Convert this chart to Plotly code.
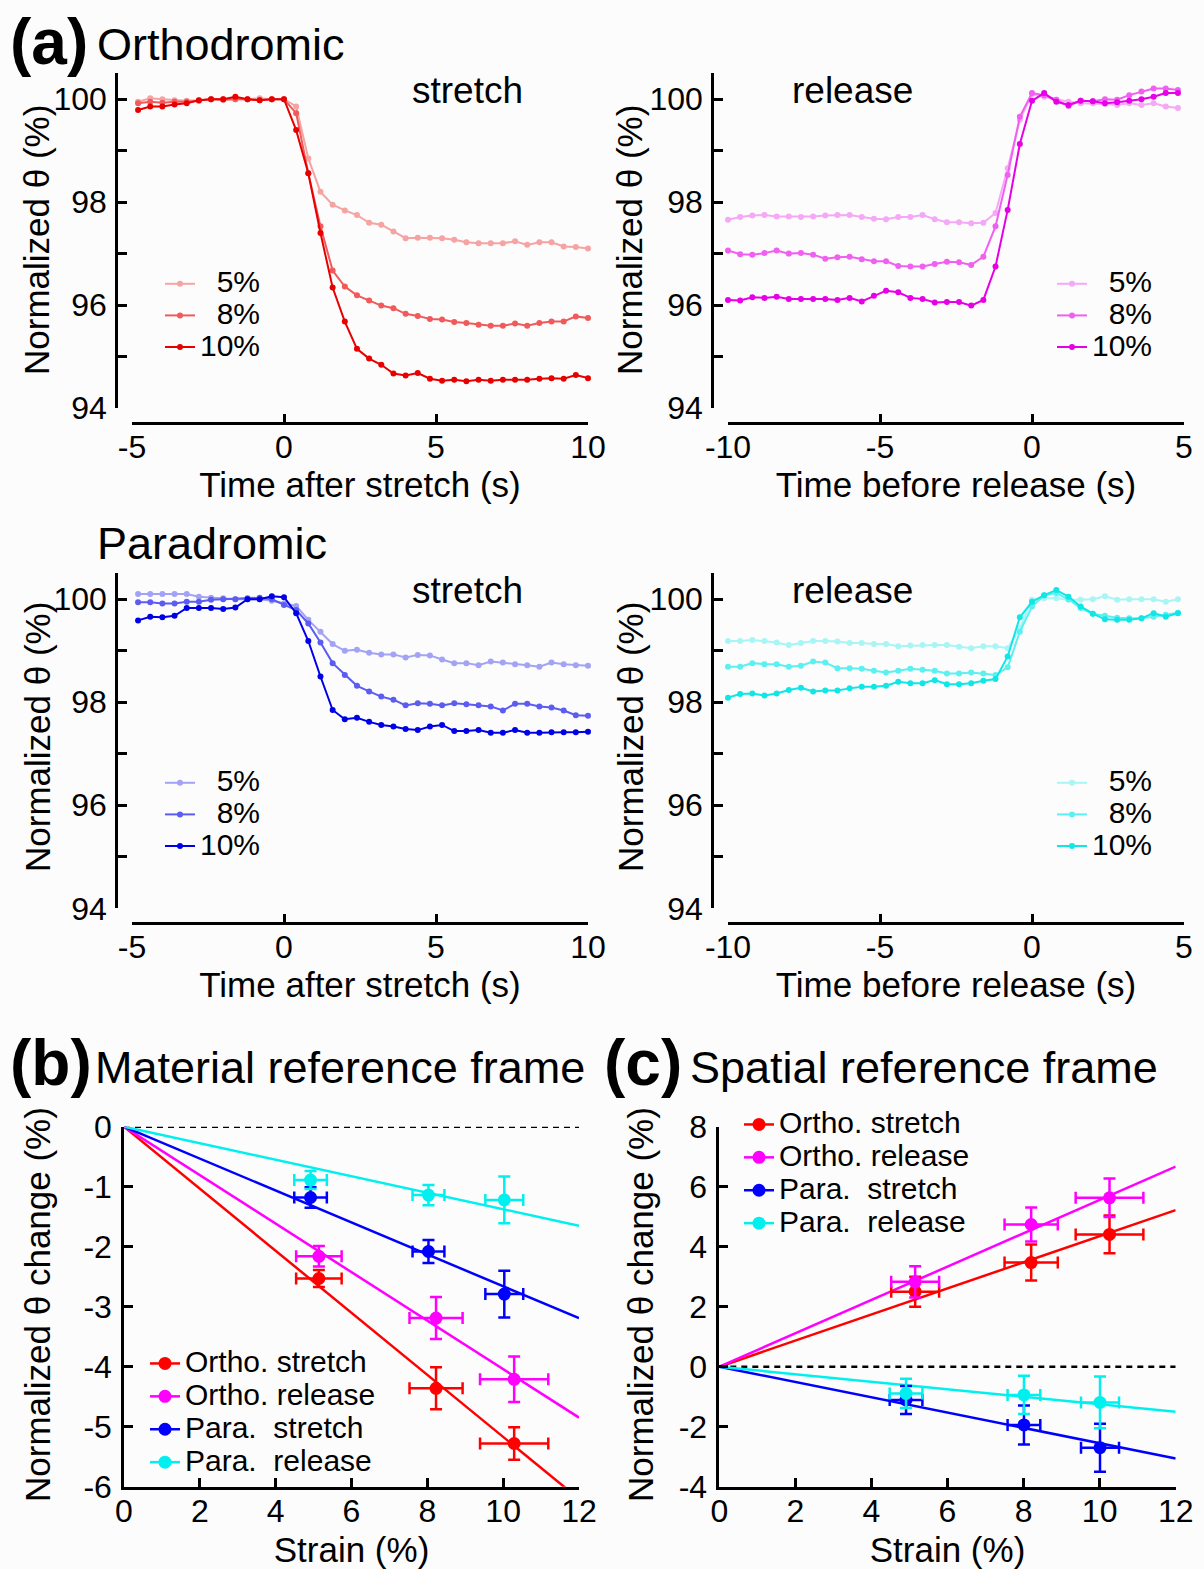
import plotly.graph_objects as go

# ---------------- data ----------------
t_stretch = [-4.8, -4.4, -4.0, -3.6, -3.2, -2.8, -2.4, -2.0, -1.6, -1.2, -0.8, -0.4, 0.0,
             0.4, 0.8, 1.2, 1.6, 2.0, 2.4, 2.8, 3.2, 3.6, 4.0, 4.4, 4.8, 5.2, 5.6, 6.0,
             6.4, 6.8, 7.2, 7.6, 8.0, 8.4, 8.8, 9.2, 9.6, 10.0]
t_release = [-10.0, -9.6, -9.2, -8.8, -8.4, -8.0, -7.6, -7.2, -6.8, -6.4, -6.0, -5.6, -5.2,
             -4.8, -4.4, -4.0, -3.6, -3.2, -2.8, -2.4, -2.0, -1.6, -1.2, -0.8, -0.4, 0.0,
             0.4, 0.8, 1.2, 1.6, 2.0, 2.4, 2.8, 3.2, 3.6, 4.0, 4.4, 4.8]

ortho_stretch_5 = [99.95, 100.02, 100.0, 99.98, 99.97, 99.98, 100.0, 99.98, 100.0, 100.0, 100.02, 100.0, 100.0,
                   99.86, 98.85, 98.2, 97.95, 97.84, 97.75, 97.6, 97.56, 97.43, 97.3, 97.31, 97.31, 97.3,
                   97.27, 97.22, 97.2, 97.2, 97.2, 97.24, 97.17, 97.22, 97.22, 97.14, 97.13, 97.1]
ortho_stretch_8 = [99.92, 99.95, 99.93, 99.95, 99.95, 99.97, 100.0, 100.0, 100.0, 100.0, 99.98, 100.0, 100.0,
                   99.73, 98.56, 97.53, 96.67, 96.36, 96.19, 96.09, 95.99, 95.94, 95.83, 95.79, 95.73, 95.72,
                   95.67, 95.65, 95.62, 95.6, 95.6, 95.64, 95.6, 95.65, 95.68, 95.68, 95.78, 95.75]
ortho_stretch_10 = [99.79, 99.86, 99.86, 99.9, 99.92, 99.98, 100.0, 100.0, 100.05, 100.0, 99.98, 100.0, 100.0,
                    99.4, 98.56, 97.4, 96.34, 95.68, 95.15, 94.96, 94.84, 94.67, 94.63, 94.68, 94.57, 94.53,
                    94.55, 94.52, 94.55, 94.53, 94.55, 94.55, 94.55, 94.57, 94.58, 94.57, 94.64, 94.58]

ortho_release_5 = [97.66, 97.71, 97.74, 97.75, 97.72, 97.72, 97.71, 97.72, 97.74, 97.75, 97.75, 97.71, 97.68,
                   97.67, 97.71, 97.71, 97.75, 97.67, 97.61, 97.61, 97.59, 97.6, 97.79, 98.66, 99.6, 100.1,
                   100.05, 99.99, 99.95, 99.92, 99.92, 99.91, 99.89, 99.92, 99.89, 99.92, 99.86, 99.83]
ortho_release_8 = [97.06, 96.99, 96.98, 97.01, 97.06, 97.0, 97.01, 96.98, 96.9, 96.93, 96.94, 96.89, 96.85,
                   96.85, 96.76, 96.75, 96.75, 96.8, 96.84, 96.83, 96.78, 96.94, 97.53, 98.53, 99.66, 100.12,
                   100.08, 99.99, 99.87, 99.97, 99.96, 100.0, 99.99, 100.08, 100.15, 100.21, 100.21, 100.18]
ortho_release_10 = [96.1, 96.09, 96.15, 96.14, 96.16, 96.12, 96.12, 96.12, 96.12, 96.1, 96.14, 96.07, 96.18,
                    96.28, 96.25, 96.14, 96.12, 96.05, 96.06, 96.06, 95.99, 96.1, 96.75, 97.85, 99.13, 99.97,
                    100.12, 99.95, 99.89, 99.97, 99.96, 99.92, 99.94, 99.97, 100.0, 100.05, 100.12, 100.12]

para_stretch_5 = [100.1, 100.1, 100.1, 100.1, 100.1, 100.05, 100.03, 100.02, 100.0, 100.0, 100.0, 99.97, 99.92,
                  99.87, 99.6, 99.37, 99.13, 99.0, 99.02, 98.96, 98.93, 98.93, 98.87, 98.92, 98.91, 98.83,
                  98.76, 98.76, 98.72, 98.79, 98.77, 98.74, 98.72, 98.69, 98.77, 98.74, 98.72, 98.71]
para_stretch_8 = [99.94, 99.94, 99.92, 99.92, 99.95, 99.95, 99.99, 100.0, 100.0, 100.02, 100.03, 100.0, 99.89,
                  99.79, 99.53, 99.16, 98.76, 98.53, 98.32, 98.21, 98.11, 98.05, 97.94, 97.98, 97.97, 97.94,
                  97.98, 97.96, 97.94, 97.92, 97.84, 97.97, 97.97, 97.92, 97.9, 97.84, 97.75, 97.74]
para_stretch_10 = [99.59, 99.66, 99.65, 99.68, 99.83, 99.83, 99.83, 99.81, 99.84, 100.0, 100.0, 100.06, 100.04,
                   99.73, 99.19, 98.5, 97.85, 97.67, 97.7, 97.62, 97.56, 97.53, 97.48, 97.46, 97.53, 97.56,
                   97.44, 97.44, 97.46, 97.41, 97.41, 97.46, 97.41, 97.41, 97.42, 97.42, 97.42, 97.43]

para_release_5 = [99.19, 99.19, 99.21, 99.19, 99.16, 99.11, 99.15, 99.19, 99.19, 99.18, 99.15, 99.15, 99.13,
                  99.13, 99.09, 99.1, 99.11, 99.11, 99.11, 99.08, 99.05, 99.09, 99.09, 99.05, 99.44, 99.99,
                  100.02, 100.02, 99.99, 99.99, 100.0, 100.06, 99.99, 100.0, 100.0, 100.0, 99.95, 100.0]
para_release_8 = [98.69, 98.69, 98.76, 98.74, 98.74, 98.69, 98.71, 98.79, 98.77, 98.66, 98.66, 98.65, 98.61,
                  98.58, 98.61, 98.65, 98.63, 98.61, 98.56, 98.56, 98.58, 98.56, 98.53, 98.68, 99.37, 99.86,
                  100.08, 100.12, 100.0, 99.83, 99.72, 99.68, 99.64, 99.63, 99.63, 99.66, 99.7, 99.74]
para_release_10 = [98.09, 98.16, 98.17, 98.13, 98.17, 98.24, 98.28, 98.21, 98.23, 98.23, 98.27, 98.3, 98.3,
                   98.32, 98.4, 98.37, 98.37, 98.43, 98.35, 98.35, 98.37, 98.42, 98.45, 98.89, 99.65, 99.95,
                   100.08, 100.18, 100.05, 99.86, 99.72, 99.61, 99.6, 99.6, 99.63, 99.73, 99.66, 99.73]

strain_labels = ["\u00a0\u00a05%", "\u00a0\u00a08%", "10%"]

# panel (b): material reference frame
b_ortho_x = [5.14, 8.23, 10.29]
b_ortho_xerr = [0.6, 0.7, 0.9]
b_para_x = [4.92, 8.03, 10.03]
b_para_xerr = [0.43, 0.42, 0.5]
b_ortho_stretch_y = [-2.53, -4.36, -5.28]
b_ortho_stretch_yerr = [0.14, 0.35, 0.27]
b_ortho_release_y = [-2.16, -3.19, -4.21]
b_ortho_release_yerr = [0.17, 0.35, 0.38]
b_para_stretch_y = [-1.18, -2.08, -2.79]
b_para_stretch_yerr = [0.17, 0.19, 0.39]
b_para_release_y = [-0.89, -1.14, -1.22]
b_para_release_yerr = [0.15, 0.17, 0.39]
b_slopes = [-0.517, -0.404, -0.266, -0.1375]

# panel (c): spatial reference frame
c_ortho_x = [5.15, 8.2, 10.26]
c_ortho_xerr = [0.63, 0.7, 0.89]
c_para_x = [4.91, 8.01, 10.01]
c_para_xerr = [0.43, 0.43, 0.5]
c_ortho_stretch_y = [2.5, 3.47, 4.41]
c_ortho_stretch_yerr = [0.5, 0.6, 0.63]
c_ortho_release_y = [2.83, 4.74, 5.63]
c_ortho_release_yerr = [0.52, 0.57, 0.64]
c_para_stretch_y = [-1.11, -1.94, -2.7]
c_para_stretch_yerr = [0.47, 0.65, 0.8]
c_para_release_y = [-0.89, -0.94, -1.19]
c_para_release_yerr = [0.49, 0.64, 0.86]
c_slopes = [0.435, 0.556, -0.255, -0.125]

group_names = ["Ortho. stretch", "Ortho. release", "Para.\u00a0\u00a0stretch", "Para.\u00a0\u00a0release"]
fit_x = [0, 12]

# ---------------- styling ----------------
W, H = 1204, 1569
FONT = "Liberation Sans, Arial, Helvetica, sans-serif"
BG = "#fcfcfc"
red_shades = ["#f5a3a3", "#f05a5a", "#e60000"]
mag_shades = ["#f5a8f5", "#f060f0", "#e600e6"]
blue_shades = ["#a3a3f5", "#5c5cf0", "#0000e6"]
cyan_shades = ["#a8f5f5", "#5cf0f0", "#10e6e6"]
main_cols = ["#ff0000", "#ff00ff", "#0000ff", "#00f0f0"]


def fx(px):
    return px / W


def fy(py):
    return 1 - py / H


fig = go.Figure()


def add_time(xs, series, cols, xa, ya, leg):
    for ys, c, n in zip(series, cols, strain_labels):
        fig.add_trace(go.Scatter(
            x=xs, y=ys, mode="lines+markers", cliponaxis=False,
            line=dict(color=c, width=2), marker=dict(color=c, size=6),
            name="<span style='font-size:30px'>%s</span>" % n,
            xaxis=xa, yaxis=ya, legend=leg))


add_time(t_stretch, [ortho_stretch_5, ortho_stretch_8, ortho_stretch_10], red_shades, "x", "y", "legend")
add_time(t_release, [ortho_release_5, ortho_release_8, ortho_release_10], mag_shades, "x2", "y2", "legend2")
add_time(t_stretch, [para_stretch_5, para_stretch_8, para_stretch_10], blue_shades, "x3", "y3", "legend3")
add_time(t_release, [para_release_5, para_release_8, para_release_10], cyan_shades, "x4", "y4", "legend4")


def add_strain(xa, ya, leg, xs_list, xe_list, ys_list, ye_list, slopes):
    fig.add_trace(go.Scatter(x=fit_x, y=[0, 0], mode="lines", showlegend=False,
                             line=dict(color="black", width=2.5, dash="6px,5px"),
                             xaxis=xa, yaxis=ya))
    for s, c in zip(slopes, main_cols):
        fig.add_trace(go.Scatter(x=fit_x, y=[s * v for v in fit_x], mode="lines",
                                 showlegend=False, line=dict(color=c, width=2.5),
                                 xaxis=xa, yaxis=ya))
    for xs, xe, ys, ye, c, n in zip(xs_list, xe_list, ys_list, ye_list, main_cols, group_names):
        fig.add_trace(go.Scatter(
            x=xs, y=ys, mode="markers", showlegend=False, cliponaxis=False,
            marker=dict(color=c, size=13),
            error_x=dict(type="data", array=xe, color=c, thickness=2.5, width=6),
            error_y=dict(type="data", array=ye, color=c, thickness=2.5, width=6),
            xaxis=xa, yaxis=ya))
        fig.add_trace(go.Scatter(
            x=[None], y=[None], mode="lines+markers",
            line=dict(color=c, width=2.5), marker=dict(color=c, size=13),
            name="<span style='font-size:30px'>%s</span>" % n,
            xaxis=xa, yaxis=ya, legend=leg))


add_strain("x5", "y5", "legend5",
           [b_ortho_x, b_ortho_x, b_para_x, b_para_x],
           [b_ortho_xerr, b_ortho_xerr, b_para_xerr, b_para_xerr],
           [b_ortho_stretch_y, b_ortho_release_y, b_para_stretch_y, b_para_release_y],
           [b_ortho_stretch_yerr, b_ortho_release_yerr, b_para_stretch_yerr, b_para_release_yerr],
           b_slopes)
add_strain("x6", "y6", "legend6",
           [c_ortho_x, c_ortho_x, c_para_x, c_para_x],
           [c_ortho_xerr, c_ortho_xerr, c_para_xerr, c_para_xerr],
           [c_ortho_stretch_y, c_ortho_release_y, c_para_stretch_y, c_para_release_y],
           [c_ortho_stretch_yerr, c_ortho_release_yerr, c_para_stretch_yerr, c_para_release_yerr],
           c_slopes)

AX = dict(showline=True, linecolor="black", linewidth=2.5, ticks="inside",
          tickcolor="black", tickwidth=2.5, showgrid=False, zeroline=False,
          automargin=False,
          tickfont=dict(size=32, color="black", family=FONT))
TITLE_FONT = dict(size=35, color="black", family=FONT)

layout = {}
# top time panels
panels = [
    ("xaxis", "yaxis", (132, 588), (408, 73), [-5, 10], 116, 423, [-5, 0, 5, 10], "Time after stretch (s)"),
    ("xaxis2", "yaxis2", (728, 1184), (408, 73), [-10, 5], 712, 423, [-10, -5, 0, 5], "Time before release (s)"),
    ("xaxis3", "yaxis3", (132, 588), (908.3, 573), [-5, 10], 116, 922.7, [-5, 0, 5, 10], "Time after stretch (s)"),
    ("xaxis4", "yaxis4", (728, 1184), (908.3, 573), [-10, 5], 712, 922.7, [-10, -5, 0, 5], "Time before release (s)"),
]
ytv = [94, 95, 96, 97, 98, 99, 100]
ytt = ["94", "", "96", "", "98", "", "100"]
for xn, yn, xd, yd, xr, ylinepx, xlinepx, xt, xtitle in panels:
    layout[xn] = dict(AX, domain=[fx(xd[0]), fx(xd[1])], range=xr, anchor="free",
                      position=fy(xlinepx), ticklen=8, tickvals=xt,
                      ticktext=[str(v) for v in xt], ticklabelstandoff=-5,
                      title=dict(text=xtitle, font=TITLE_FONT, standoff=8))
    layout[yn] = dict(AX, domain=[fy(yd[0]), fy(yd[1])], range=[94, 100.51], anchor="free",
                      position=fx(ylinepx), ticklen=9, tickvals=ytv, ticktext=ytt,
                      ticklabelstandoff=2)

# strain panels
b_ytv = [-6, -5, -4, -3, -2, -1, 0]
c_ytv = [-4, -2, 0, 2, 4, 6, 8]
s_xtv = [0, 2, 4, 6, 8, 10, 12]
layout["xaxis5"] = dict(AX, domain=[fx(124), fx(579)], range=[0, 12], anchor="y5", ticklen=9,
                        tickvals=s_xtv, ticktext=[str(v) for v in s_xtv], ticklabelstandoff=-6,
                        title=dict(text="Strain (%)", font=TITLE_FONT, standoff=16))
layout["yaxis5"] = dict(AX, domain=[fy(1486.7), fy(1126.7)], range=[-6, 0], anchor="x5", ticklen=9,
                        tickvals=b_ytv, ticktext=[str(v) for v in b_ytv], ticklabelstandoff=3)
layout["xaxis6"] = dict(AX, domain=[fx(719.3), fx(1175.7)], range=[0, 12], anchor="y6", ticklen=9,
                        tickvals=s_xtv, ticktext=[str(v) for v in s_xtv], ticklabelstandoff=-6,
                        title=dict(text="Strain (%)", font=TITLE_FONT, standoff=16))
layout["yaxis6"] = dict(AX, domain=[fy(1486.7), fy(1126.7)], range=[-4, 8], anchor="x6", ticklen=9,
                        tickvals=c_ytv, ticktext=[str(v) for v in c_ytv], ticklabelstandoff=3)


def legend_box(xpx, ypx, size):
    return dict(x=fx(xpx), y=fy(ypx), xanchor="left", yanchor="top",
                bgcolor="rgba(0,0,0,0)", borderwidth=0, tracegroupgap=0,
                font=dict(size=size, color="black", family=FONT))


layout["legend"] = legend_box(160, 263, 22)
layout["legend2"] = legend_box(1052, 263, 22)
layout["legend3"] = legend_box(160, 762, 22)
layout["legend4"] = legend_box(1052, 762, 22)
layout["legend5"] = legend_box(145, 1342, 23)
layout["legend6"] = legend_box(739, 1103, 23)


def ann(text, xpx, ypx, size, bold=False, xanchor="left", angle=0):
    return dict(text="<b>%s</b>" % text if bold else text, x=fx(xpx), y=fy(ypx),
                xref="paper", yref="paper", xanchor=xanchor, yanchor="middle",
                textangle=angle, showarrow=False,
                font=dict(size=size, color="black", family=FONT))


YT = "Normalized \u03b8 (%)"
YT2 = "Normalized \u03b8 change (%)"
annotations = [
    ann("(a)", 8, 42, 64, bold=True),
    ann("Orthodromic", 95, 45, 45),
    ann("Paradromic", 95, 543, 45),
    ann("stretch", 467, 90, 37, xanchor="center"),
    ann("release", 852, 90, 37, xanchor="center"),
    ann("stretch", 467, 590, 37, xanchor="center"),
    ann("release", 852, 590, 37, xanchor="center"),
    ann("(b)", 8, 1063, 64, bold=True),
    ann("Material reference frame", 93, 1067, 45),
    ann("(c)", 602, 1063, 64, bold=True),
    ann("Spatial reference frame", 688, 1067, 45),
    # y-axis titles
    ann(YT, 37, 240, 35, xanchor="center", angle=-90),
    ann(YT, 630, 240, 35, xanchor="center", angle=-90),
    ann(YT, 37, 737, 35, xanchor="center", angle=-90),
    ann(YT, 630, 737, 35, xanchor="center", angle=-90),
    ann(YT2, 37, 1305, 35, xanchor="center", angle=-90),
    ann(YT2, 640, 1305, 35, xanchor="center", angle=-90),
]

fig.update_layout(
    width=W, height=H, autosize=False,
    margin=dict(l=0, r=0, t=0, b=0, pad=0),
    paper_bgcolor=BG, plot_bgcolor=BG,
    font=dict(family=FONT, color="black"),
    annotations=annotations,
    **layout,
)

fig.write_html("out.html", config={"displayModeBar": False},
               post_script="document.body.style.margin='0';document.body.style.overflow='hidden';")
